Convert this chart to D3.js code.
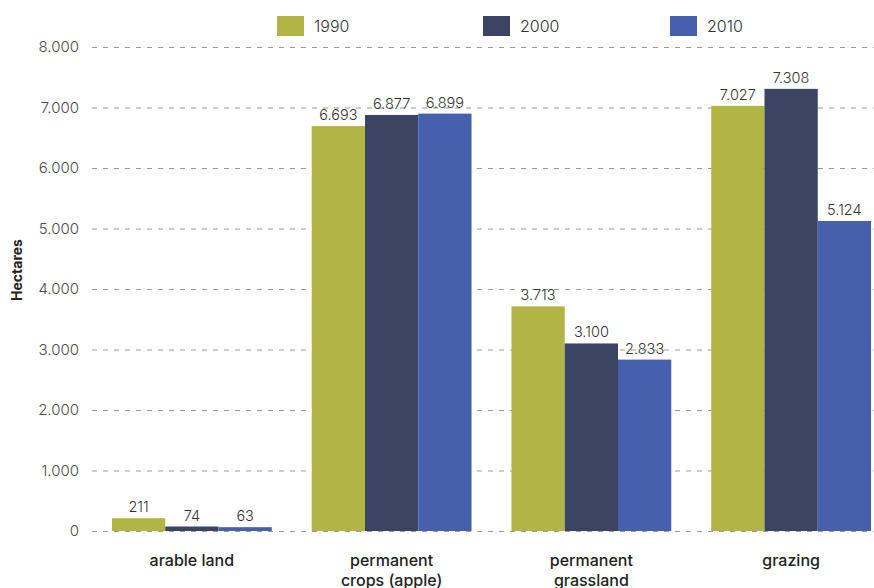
<!DOCTYPE html>
<html>
  <head>
    <meta charset="utf-8">
    <title>Land use</title>
    <script src="https://d3js.org/d3.v7.min.js"></script>
    <style>
      body { margin: 0; background: #ffffff; }
      svg { display: block; }
      text { font-family: "Inter", "Open Sans", sans-serif; }
    </style>
  </head>
  <body>
    <svg width="874" height="588"></svg>
    <script>
      var categories = [["arable land"], ["permanent", "crops (apple)"], ["permanent", "grassland"], ["grazing"]];
      var years = ["1990", "2000", "2010"];
      var colors = ["#b3b446", "#3b4563", "#4660ad"];
      var values1990 = [211, 6693, 3713, 7027];
      var values2000 = [74, 6877, 3100, 7308];
      var values2010 = [63, 6899, 2833, 5124];
      var yTicks = [0, 1000, 2000, 3000, 4000, 5000, 6000, 7000, 8000];

      var series = [values1990, values2000, values2010];
      var svg = d3.select("svg");
      var fmt = d3.formatLocale({ decimal: ",", thousands: ".", grouping: [3], currency: ["", ""] }).format(",d");

      var y = d3.scaleLinear().domain([0, 8000]).range([531, 47]);
      var x0 = d3.scaleBand()
        .domain(d3.range(categories.length))
        .range([92, 891])
        .paddingInner(0.2)
        .paddingOuter(0.1);
      var x1 = d3.scaleBand()
        .domain(d3.range(years.length))
        .range([0, x0.bandwidth()]);

      // grid lines + tick labels
      var yAxis = d3.axisLeft(y)
        .tickValues(yTicks)
        .tickSize(-(874 - 92))
        .tickPadding(13)
        .tickFormat(function(d) { return fmt(d); });
      var g = svg.append("g")
        .attr("transform", "translate(92,0)")
        .call(yAxis);
      g.select(".domain").remove();
      g.selectAll(".tick line")
        .attr("stroke", "#9a9a9a")
        .attr("stroke-width", 1.2)
        .attr("stroke-dasharray", "5,6");
      g.selectAll(".tick text")
        .attr("font-size", 15)
        .attr("font-weight", 300)
        .attr("fill", "#4a4a4a")
        .attr("font-family", "Inter, sans-serif");

      // bars
      var groups = svg.append("g").selectAll("g")
        .data(categories)
        .join("g")
        .attr("transform", function(d, i) { return "translate(" + x0(i) + ",0)"; });

      groups.selectAll("rect")
        .data(function(d, i) { return series.map(function(s, k) { return { k: k, v: s[i] }; }); })
        .join("rect")
        .attr("x", function(d) { return x1(d.k); })
        .attr("width", x1.bandwidth())
        .attr("y", function(d) { return y(d.v); })
        .attr("height", function(d) { return y(0) - y(d.v); })
        .attr("fill", function(d) { return colors[d.k]; });

      groups.selectAll("text.val")
        .data(function(d, i) { return series.map(function(s, k) { return { k: k, v: s[i] }; }); })
        .join("text")
        .attr("class", "val")
        .attr("x", function(d) { return x1(d.k) + x1.bandwidth() / 2; })
        .attr("y", function(d) { return y(d.v) - 6; })
        .attr("text-anchor", "middle")
        .attr("font-size", 14.5)
        .attr("font-weight", 300)
        .attr("fill", "#333")
        .text(function(d) { return fmt(d.v); });

      // category labels
      groups.append("text")
        .attr("x", x0.bandwidth() / 2)
        .attr("y", 566)
        .attr("text-anchor", "middle")
        .attr("font-size", 16)
        .attr("font-weight", 500)
        .attr("fill", "#222")
        .selectAll("tspan")
        .data(function(d) { return d; })
        .join("tspan")
        .attr("x", x0.bandwidth() / 2)
        .attr("dy", function(d, i) { return i ? 20 : 0; })
        .text(function(d) { return d; });

      // y title
      svg.append("text")
        .attr("transform", "translate(22,270) rotate(-90)")
        .attr("text-anchor", "middle")
        .attr("font-size", 14)
        .attr("font-weight", 700)
        .attr("fill", "#222")
        .text("Hectares");

      // legend
      var legendX = [277, 483, 670];
      var legend = svg.append("g").selectAll("g")
        .data(years)
        .join("g")
        .attr("transform", function(d, i) { return "translate(" + legendX[i] + ",16)"; });
      legend.append("rect")
        .attr("width", 27)
        .attr("height", 20)
        .attr("fill", function(d, i) { return colors[i]; });
      legend.append("text")
        .attr("x", 37)
        .attr("y", 16)
        .attr("font-size", 16)
        .attr("font-weight", 300)
        .attr("fill", "#333")
        .text(function(d) { return d; });
    </script>
  </body>
</html>
